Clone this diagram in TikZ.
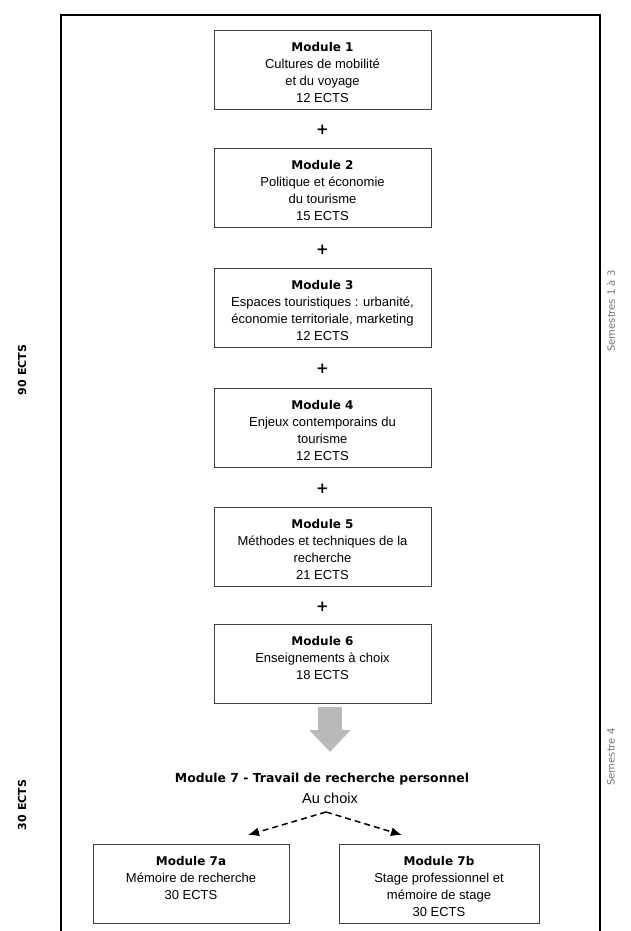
\documentclass[tikz,border=0pt]{standalone}
\usepackage{fontspec}
\setmainfont{Liberation Sans}
\newfontfamily\verdana{DejaVu Sans}
\usetikzlibrary{arrows.meta}

% text of one module box: width, title, lines
\newcommand{\modtxt}[3]{\parbox[c][79pt][t]{#1}{\centering\vspace*{12pt}%
  {\verdana\bfseries\fontsize{12}{17}\selectfont #2}\\#3}}

\tikzset{
  modbox/.style={draw=black!75, line width=1pt, anchor=north, inner sep=0pt,
    font=\fontsize{13}{17}\selectfont},
  plussign/.style={font=\verdana\bfseries\fontsize{15}{15}\selectfont},
  sidelabel/.style={rotate=90, font=\verdana\fontsize{10}{10}\selectfont},
  choice/.style={line width=1.5pt, dash pattern=on 6pt off 4pt, -{Latex[length=11pt,width=9pt]}}
}

\begin{document}
\begin{tikzpicture}[x=1pt,y=-1pt]
    \fill[white] (0,0) rectangle (630,931);
    \useasboundingbox (0,0) rectangle (630,931);
    \draw[line width=1.8pt] (61,931) -- (61,15) -- (600,15) -- (600,931);

    \node[modbox] (m1) at (322.5,30) {\modtxt{217pt}{Module 1}{Cultures de mobilité\\et du voyage\\12 ECTS}};
    \node[plussign] (p1) at (322.5,130) {+};
    \node[modbox] (m2) at (322.5,148) {\modtxt{217pt}{Module 2}{Politique et économie\\du tourisme\\15 ECTS}};
    \node[plussign] (p2) at (322.5,250) {+};
    \node[modbox] (m3) at (322.5,268) {\modtxt{217pt}{Module 3}{Espaces touristiques : urbanité,\\économie territoriale, marketing\\12 ECTS}};
    \node[plussign] (p3) at (322.5,369) {+};
    \node[modbox] (m4) at (322.5,388) {\modtxt{217pt}{Module 4}{Enjeux contemporains du\\tourisme\\12 ECTS}};
    \node[plussign] (p4) at (322.5,489) {+};
    \node[modbox] (m5) at (322.5,507) {\modtxt{217pt}{Module 5}{Méthodes et techniques de la\\recherche\\21 ECTS}};
    \node[plussign] (p5) at (322.5,607) {+};
    \node[modbox] (m6) at (322.5,624) {\modtxt{217pt}{Module 6}{Enseignements à choix\\18 ECTS}};

    % big grey arrow
    \coordinate (arrtop) at (330,707);
    \coordinate (arrtip) at (330,752);
    \draw[line width=24pt, draw=gray!55, -{Triangle[width=40pt,length=22pt]}] (arrtop) -- (arrtip);

    \node[font=\verdana\bfseries\fontsize{12.4}{14}\selectfont] (m7) at (322,779) {Module 7 - Travail de recherche personnel};
    \node[font=\fontsize{14.5}{16}\selectfont] (choix) at (330,798) {Au choix};

    \node[modbox] (m7a) at (191,844) {\modtxt{196pt}{Module 7a}{Mémoire de recherche\\30 ECTS}};
    \node[modbox] (m7b) at (439,844) {\modtxt{200pt}{Module 7b}{Stage professionnel et\\mémoire de stage\\30 ECTS}};

    \coordinate (split) at (326,812);
    \coordinate (toa) at (248,835);
    \coordinate (tob) at (402,835);
    \draw[choice] (split) -- (toa);
    \draw[choice] (split) -- (tob);

    % side labels
    \node[sidelabel, font=\verdana\bfseries\fontsize{11}{11}\selectfont] (ects1) at (22,370) {90 ECTS};
    \node[sidelabel, font=\verdana\bfseries\fontsize{11}{11}\selectfont] (ects2) at (22,805) {30 ECTS};
    \node[sidelabel, text=black!55] (sem1) at (611,311) {Semestres 1 à 3};
    \node[sidelabel, text=black!55] (sem2) at (611,757) {Semestre 4};
\end{tikzpicture}
\end{document}
